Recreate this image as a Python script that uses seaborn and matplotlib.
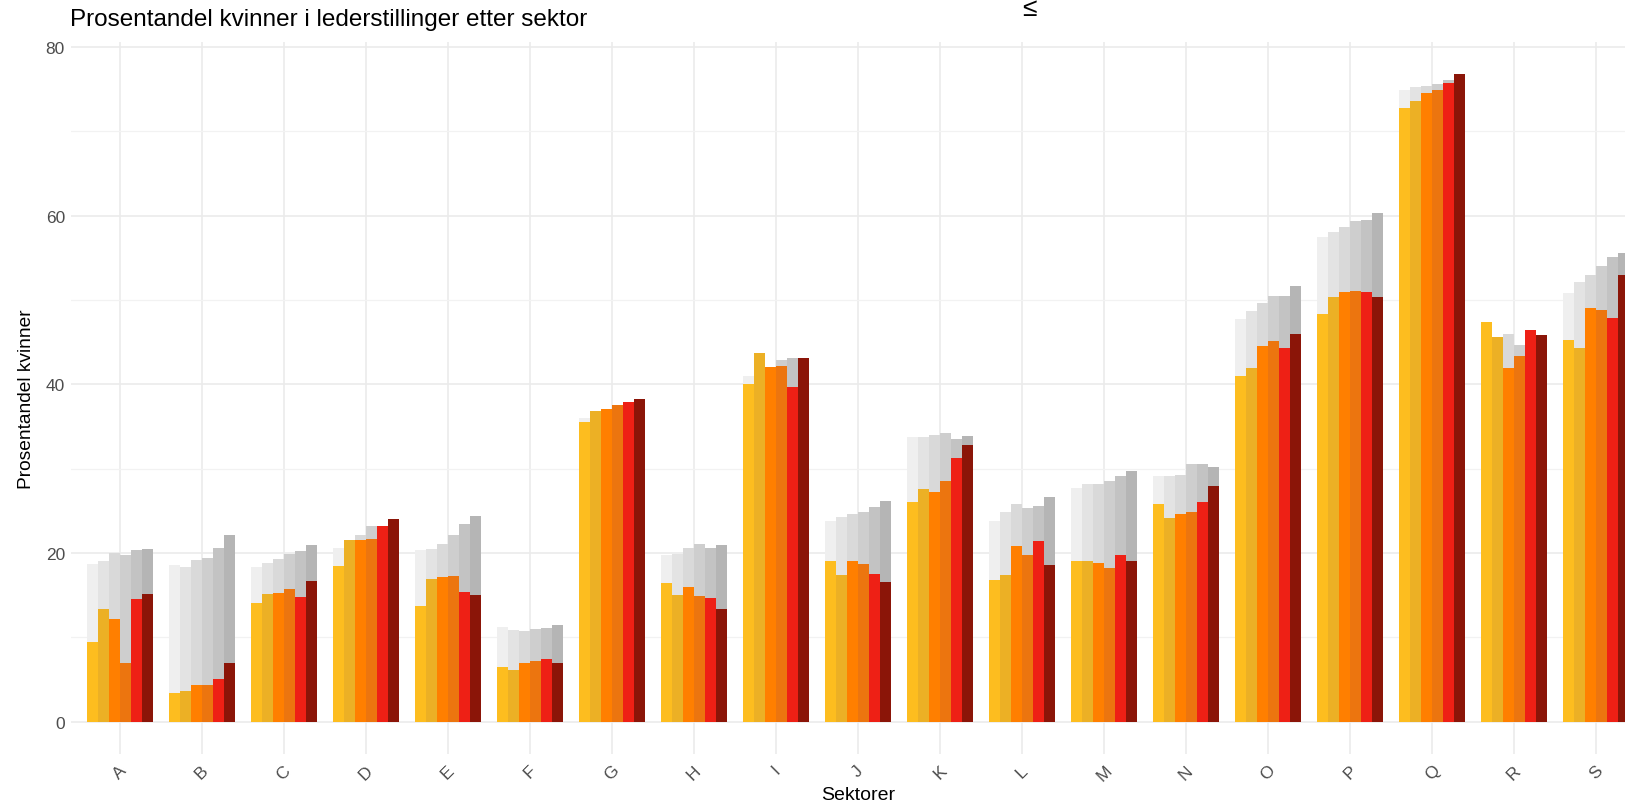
import numpy as np
import pandas as pd
import seaborn as sns
import matplotlib.pyplot as plt

sektorer = list("ABCDEFGHIJKLMNOPQRS")
aar = ["2016", "2017", "2018", "2019", "2020", "2021"]

# andel kvinner i lederstillinger, per aar (A..S)
ledere_2016 = [9.4, 3.4, 14.1, 18.4, 13.7, 6.5, 35.5, 16.4, 40.0, 19.1, 26.0, 16.8, 19.1, 25.8, 41.0, 48.3, 72.8, 47.4, 45.2]
ledere_2017 = [13.3, 3.6, 15.1, 21.5, 16.9, 6.1, 36.8, 15.0, 43.7, 17.4, 27.6, 17.4, 19.1, 24.2, 41.9, 50.3, 73.6, 45.6, 44.3]
ledere_2018 = [12.2, 4.3, 15.3, 21.5, 17.1, 6.9, 37.1, 16.0, 42.1, 19.1, 27.2, 20.8, 18.8, 24.6, 44.5, 50.9, 74.5, 41.9, 49.0]
ledere_2019 = [6.9, 4.4, 15.7, 21.6, 17.3, 7.2, 37.5, 14.9, 42.2, 18.7, 28.5, 19.8, 18.2, 24.8, 45.1, 51.0, 74.9, 43.3, 48.8]
ledere_2020 = [14.5, 5.0, 14.8, 23.2, 15.4, 7.4, 37.9, 14.6, 39.7, 17.5, 31.2, 21.4, 19.7, 26.0, 44.3, 50.9, 75.7, 46.4, 47.8]
ledere_2021 = [15.1, 7.0, 16.7, 24.0, 15.0, 6.9, 38.3, 13.4, 43.1, 16.6, 32.8, 18.6, 19.1, 27.9, 46.0, 50.4, 76.8, 45.8, 53.0]

# andel kvinner totalt i sektoren (graa bakgrunnssoyler)
alle_2016 = [18.7, 18.6, 18.3, 20.6, 20.3, 11.2, 36.0, 19.8, 41.0, 23.8, 33.7, 23.8, 27.7, 29.1, 47.7, 57.5, 74.9, 45.0, 50.8]
alle_2017 = [19.1, 18.3, 18.8, 21.3, 20.5, 10.9, 36.6, 19.9, 43.0, 24.3, 33.7, 24.8, 28.2, 29.1, 48.7, 58.0, 75.2, 45.5, 52.1]
alle_2018 = [20.0, 19.2, 19.3, 22.1, 21.1, 10.8, 37.0, 20.6, 42.0, 24.6, 34.0, 25.8, 28.2, 29.2, 49.6, 58.7, 75.4, 45.9, 53.0]
alle_2019 = [19.8, 19.4, 19.9, 23.2, 22.1, 11.0, 37.3, 21.1, 42.9, 24.9, 34.2, 25.3, 28.5, 30.5, 50.5, 59.4, 75.6, 44.7, 54.0]
alle_2020 = [20.4, 20.6, 20.2, 23.0, 23.4, 11.1, 37.7, 20.6, 43.1, 25.4, 33.5, 25.6, 29.1, 30.5, 50.5, 59.5, 76.1, 45.5, 55.1]
alle_2021 = [20.5, 22.1, 20.9, 23.8, 24.4, 11.5, 38.1, 20.9, 43.1, 26.1, 33.9, 26.6, 29.7, 30.2, 51.6, 60.3, 76.7, 45.0, 55.6]

farger = ["#FDBD1F", "#ECB025", "#FF7F00", "#EC750F", "#EE2015", "#8B1508"]
graa = ["#EFEFEF", "#E3E3E3", "#D9D9D9", "#CECECE", "#C3C3C3", "#B5B5B5"]

ledere = [ledere_2016, ledere_2017, ledere_2018, ledere_2019, ledere_2020, ledere_2021]
alle = [alle_2016, alle_2017, alle_2018, alle_2019, alle_2020, alle_2021]

df_ledere = pd.DataFrame({
    "sektor": sektorer * len(aar),
    "aar": np.repeat(aar, len(sektorer)),
    "andel": np.concatenate(ledere),
})
df_alle = pd.DataFrame({
    "sektor": sektorer * len(aar),
    "aar": np.repeat(aar, len(sektorer)),
    "andel": np.concatenate(alle),
})

sns.set_theme(style="white")
plt.rcParams['font.family'] = ['Liberation Sans', 'DejaVu Sans']

fig = plt.figure(figsize=(16.25, 8.04), dpi=100)
ax = fig.add_axes([70.5 / 1625, 1 - 755 / 804, 1575 / 1625, (755 - 42.5) / 804])

# graa soyler bak, fargede foran
sns.barplot(data=df_alle, x="sektor", y="andel", hue="aar", order=sektorer, hue_order=aar,
            palette=graa, width=0.8, gap=0, saturation=1, legend=False, ax=ax, zorder=2)
sns.barplot(data=df_ledere, x="sektor", y="andel", hue="aar", order=sektorer, hue_order=aar,
            palette=farger, width=0.8, gap=0, saturation=1, legend=False, ax=ax, zorder=3)

for p in ax.patches:
    p.set_edgecolor("none")
    p.set_linewidth(0)

ymax = max(max(v) for v in ledere + alle)
ax.set_ylim(-0.05 * ymax, ymax * 1.05)
ax.set_xlim(-0.6, len(sektorer) - 0.4)
ax.set_yticks([0, 20, 40, 60, 80])
ax.set_yticks([10, 30, 50, 70], minor=True)
ax.grid(True, which="major", color="#EBEBEB", linewidth=1.2, zorder=0)
ax.grid(True, which="minor", axis="y", color="#F2F2F2", linewidth=0.9, zorder=0)
ax.set_axisbelow(True)
for s in ax.spines.values():
    s.set_visible(False)

ax.tick_params(axis="both", which="both", length=0, colors="#4D4D4D", labelsize=12.5)
ax.tick_params(axis="y", pad=4)
ax.tick_params(axis="x", pad=6)
plt.setp(ax.get_xticklabels(), rotation=45, ha="center", va="top")

ax.set_xlabel("Sektorer", fontsize=14, color="black", labelpad=2)
ax.set_ylabel("Prosentandel kvinner", fontsize=13.8, color="black", labelpad=8)
fig.text(70.5 / 1625, 1 - 20 / 804, "Prosentandel kvinner i lederstillinger etter sektor",
         fontsize=17.5, color="black", ha="left", va="center")
fig.text(1029 / 1625, 1 - 9 / 804, "\u2264", fontsize=19, color="black", ha="center", va="center")

fig.savefig("out.png", dpi=100)
